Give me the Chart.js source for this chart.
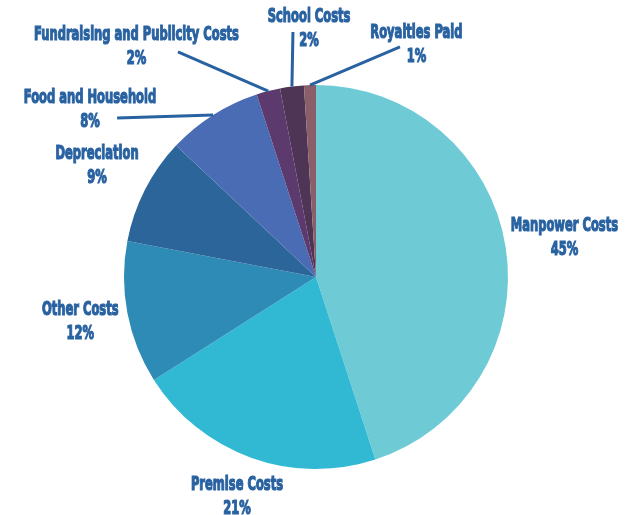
<!DOCTYPE html>
<html>
<head>
<meta charset="utf-8">
<script src="https://cdn.jsdelivr.net/npm/chart.js@4.4.0/dist/chart.umd.min.js"></script>
<style>
    html, body { margin: 0; padding: 0; background: #ffffff; }
    #chart { display: block; }
</style>
</head>
<body>
<canvas id="chart" width="635" height="515"></canvas>
<script>
// cost breakdown, clockwise from 12 o'clock
var categories = ["Manpower Costs", "Premise Costs", "Other Costs", "Depreciation",
    "Food and Household", "Fundraising and Publicity Costs", "School Costs", "Royalties Paid"];
var shares = [45, 21, 12, 9, 8, 2, 2, 1];
var percentLabels = ["45%", "21%", "12%", "9%", "8%", "2%", "2%", "1%"];
var sliceColours = ["#6ecbd6", "#31b9d4", "#2d8bb6", "#2b6599", "#4a6cb4", "#5d3a6d", "#4e3556", "#8a5f6a"];

var textColour = "#2962a1";
var textFont = "bold 20px 'DejaVu Sans Condensed', 'DejaVu Sans', sans-serif";
var squeeze = 0.64;

// label placement in units of the pie radius
// radial: distance along the slice middle; leader: text centre + line end relative to pie centre
var labelLayout = [
    { radial: 1.31 },
    { radial: 1.215 },
    { radial: 1.25 },
    { radial: 1.28 },
    { text: [-1.177, -0.870], line: [-1.036, -0.828] },
    { text: [-0.935, -1.201], line: [-0.719, -1.172] },
    { text: [-0.036, -1.292], line: [-0.120, -1.276] },
    { text: [0.523, -1.211], line: [0.4375, -1.198] }
];

var sliceLabels = {
    id: "sliceLabels",
    afterDatasetsDraw: function (chart) {
        var ctx = chart.ctx;
        var arcs = chart.getDatasetMeta(0).data;
        ctx.save();
        arcs.forEach(function (arc, i) {
            var p = arc.getProps(["x", "y", "startAngle", "endAngle", "outerRadius"], true);
            var mid = (p.startAngle + p.endAngle) / 2;
            var r = p.outerRadius;
            var layout = labelLayout[i];
            var tx, ty;
            if (layout.radial) {
                tx = p.x + Math.cos(mid) * r * layout.radial;
                ty = p.y + Math.sin(mid) * r * layout.radial;
            } else {
                tx = p.x + layout.text[0] * r;
                ty = p.y + layout.text[1] * r;
                // leader line from slice edge out to the label
                ctx.beginPath();
                ctx.moveTo(p.x + Math.cos(mid) * r, p.y + Math.sin(mid) * r);
                ctx.lineTo(p.x + layout.line[0] * r, p.y + layout.line[1] * r);
                ctx.strokeStyle = textColour;
                ctx.lineWidth = 3;
                ctx.stroke();
            }
            ctx.save();
            ctx.translate(tx, ty);
            ctx.scale(squeeze, 1);
            ctx.font = textFont;
            ctx.fillStyle = textColour;
            ctx.strokeStyle = textColour;
            ctx.lineWidth = 1.2;
            ctx.textAlign = "center";
            ctx.textBaseline = "middle";
            ctx.fillText(categories[i], 0, -12);
            ctx.strokeText(categories[i], 0, -12);
            ctx.fillText(percentLabels[i], 0, 12);
            ctx.strokeText(percentLabels[i], 0, 12);
            ctx.restore();
        });
        ctx.restore();
    }
};

var ctx = document.getElementById("chart").getContext("2d");
new Chart(ctx, {
    type: "pie",
    data: {
        labels: categories,
        datasets: [{
            data: shares,
            backgroundColor: sliceColours,
            borderWidth: 0
        }]
    },
    options: {
        responsive: false,
        animation: false,
        layout: {
            padding: { top: 85, bottom: 46, left: 124, right: 127 }
        },
        plugins: {
            legend: { display: false },
            tooltip: { enabled: false }
        }
    },
    plugins: [sliceLabels]
});
</script>
</body>
</html>
